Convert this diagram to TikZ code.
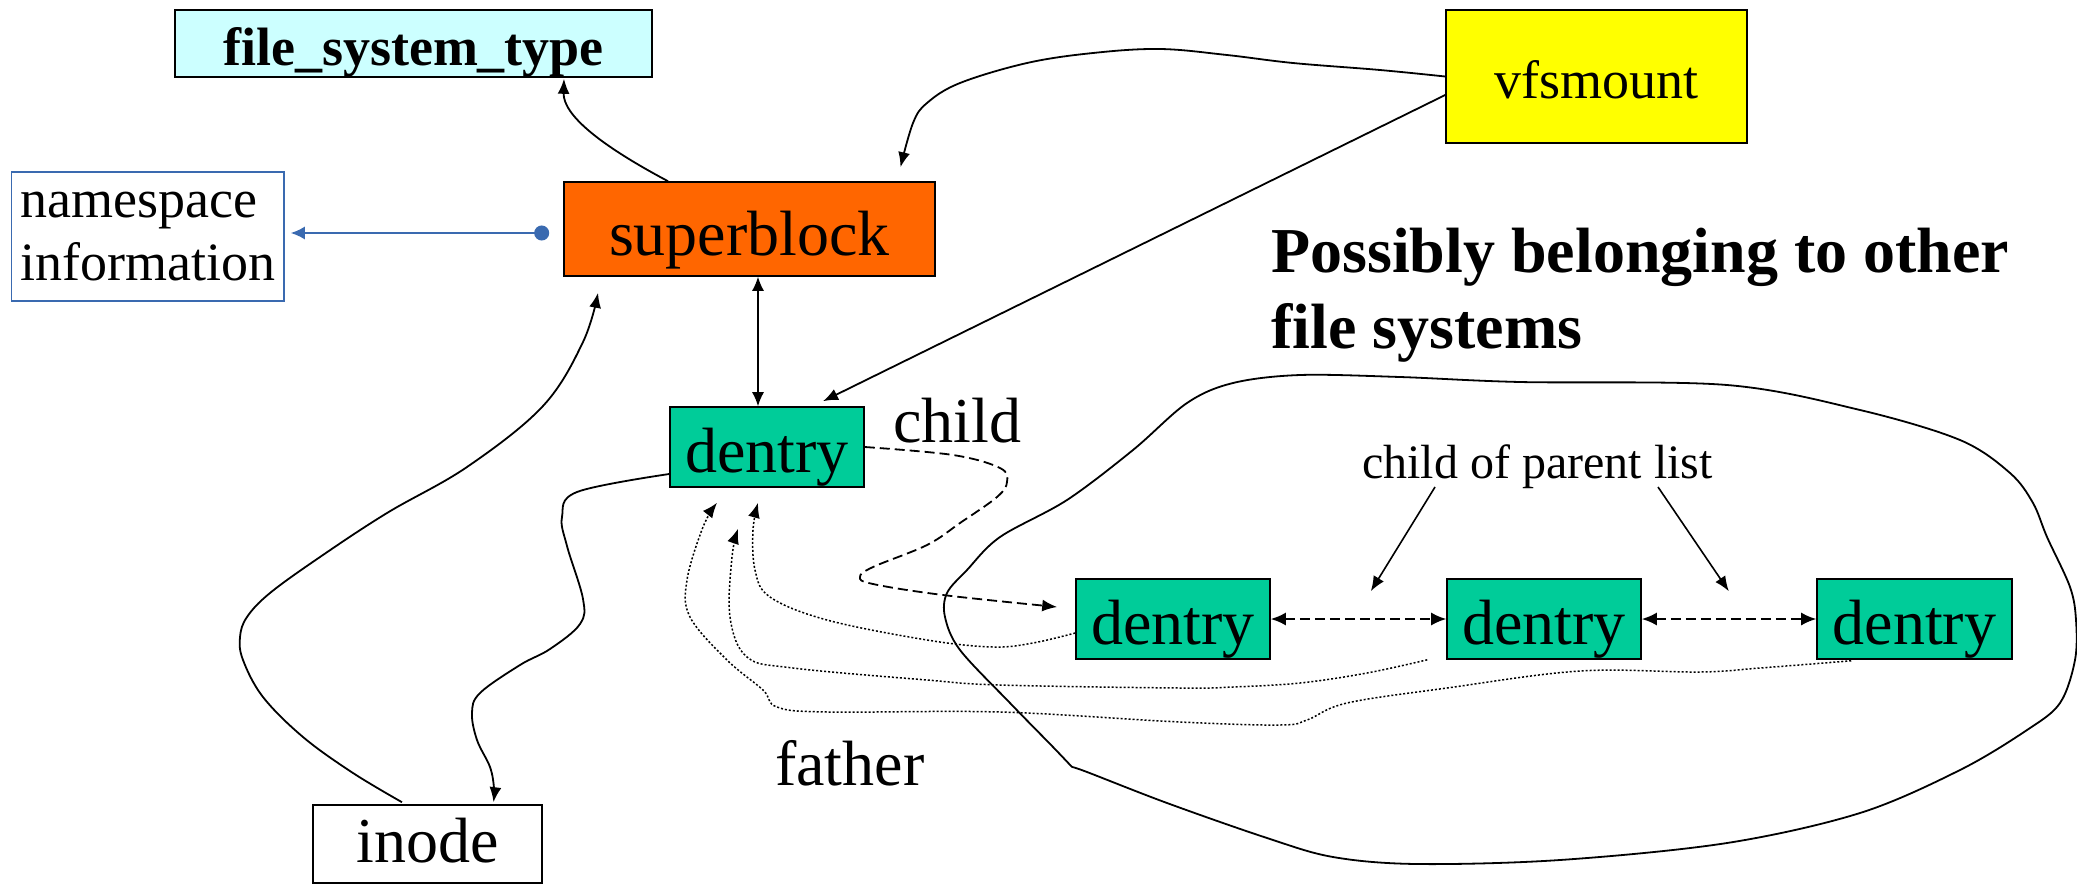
\documentclass[tikz,border=0pt]{standalone}
\usepackage{fontspec}
\setmainfont{Liberation Serif}
\usetikzlibrary{arrows.meta,calc}
\definecolor{fstcyan}{HTML}{CCFFFF}
\definecolor{sborange}{HTML}{FF6600}
\definecolor{vfsyellow}{HTML}{FFFF00}
\definecolor{dteal}{HTML}{00CC99}
\definecolor{nsblue}{HTML}{3A6AB0}
\begin{document}
\begin{tikzpicture}[x=1pt,y=-1pt,
  box/.style={draw=black, line width=1.6pt, inner sep=0pt, text depth=0pt},
  big/.style={font=\fontsize{64}{77}\selectfont},
  mid/.style={font=\fontsize{54}{63}\selectfont},
  dent/.style={box, fill=dteal, minimum width=194pt, minimum height=80pt, text height=51pt, big},
  lbl/.style={inner sep=0pt, anchor=base west},
  tip/.style={-{Latex[length=15pt,width=12pt]}},
  conn/.style={line width=1.8pt, tip},
  dashconn/.style={line width=1.8pt, dash pattern=on 10pt off 5pt},
  dotconn/.style={line width=1.5pt, dash pattern=on 2pt off 2pt, tip},
]
\useasboundingbox (0,0) rectangle (2077,884);

% boxes
\node[box, fill=fstcyan, minimum width=477pt, minimum height=67pt, text height=43pt,
      font=\fontsize{54}{65}\selectfont\bfseries] (fst) at (413.5,43.5) {file\_system\_type};
\node[box, fill=sborange, minimum width=371pt, minimum height=94pt, text height=52pt, big] (sb) at (749.5,229) {superblock};
\node[draw=nsblue, line width=1.5pt, minimum width=272.5pt, minimum height=129pt, inner sep=0pt,
      align=left, mid] (ns) at (147.75,236.5) {namespace\\information};
\node[box, fill=vfsyellow, minimum width=301pt, minimum height=133pt, text height=43pt, mid] (vfs) at (1596.5,76.5) {vfsmount};
\node[dent] (d0) at (767,447) {dentry};
\node[dent] (d1) at (1173,619) {dentry};
\node[dent] (d2) at (1544,619) {dentry};
\node[dent, minimum width=195pt] (d3) at (1914.5,619) {dentry};
\node[box, fill=white, minimum width=229pt, minimum height=78pt, text height=36pt, big] (inode) at (427.5,844) {inode};

% labels
\node[lbl, big] (child) at (893,442) {child};
\node[lbl, big] (father) at (775,785) {father};
\node[lbl, font=\fontsize{48}{58}\selectfont] (cpl) at (1362,478) {child of parent list};
\node[lbl, align=left, font=\fontsize{64}{76}\selectfont\bfseries] (poss) at (1271,348) {Possibly belonging to other\\file systems};

% blob
\draw[line width=1.8pt] plot[smooth, tension=0.55] coordinates {
 (1072,767) (1053,747) (1010,703) (960,650) (945,617) (947,593) (967,570) (1000,537)
 (1067,500) (1133,450) (1187,403) (1233,383) (1300,375) (1400,377) (1520,382) (1727,385)
 (1860,410) (1960,440) (2010,473) (2033,503) (2047,537) (2070,587) (2076,620) (2075,660)
 (2060,703) (2027,730) (1960,770) (1860,813) (1727,843) (1560,860) (1417,864) (1333,857)
 (1267,838) (1167,803) (1087,772) (1072,767)};

% superblock -> file_system_type
\draw[conn] ($(sb.north)+(-81.5,0)$) .. controls (600,145) and (563,115) .. ($(fst.south)+(150.5,1)$);
% vfsmount -> superblock
\draw[conn] plot[smooth, tension=0.6] coordinates {(vfs.west) (1380,70) (1293,63) (1227,55) (1160,49) (1093,53) (1027,63) (960,83) (927,103) (913,123) ($(sb.north)+(151,-14)$)};
% vfsmount -> dentry
\draw[conn] ($(vfs.west)+(0,18.5)$) -- ($(d0.north)+(56,-5)$);
% superblock <-> dentry
\draw[line width=1.4pt, {Latex[length=14pt,width=12pt]}-{Latex[length=14pt,width=12pt]}] ($(sb.south)+(8.5,0)$) -- ($(d0.north)+(-9,0)$);
% namespace
\draw[nsblue, line width=1.8pt, {Circle[length=15pt]}-{Latex[length=14pt,width=13pt]}] ($(sb.west)+(-14,4)$) -- ($(ns.east)+(6,-3.5)$);
% inode -> superblock
\draw[conn] plot[smooth, tension=0.6] coordinates {($(inode.north)+(-25.5,-2)$) (353,773) (303,737) (263,697) (243,660) (240,637) (247,617) (270,593) (320,557) (387,513) (467,467) (543,406) (583,342) ($(sb.south)+(-151.5,16)$)};
% dentry -> inode
\draw[conn] plot[smooth, tension=0.6] coordinates {($(d0.west)+(0,27)$) (577,492) (562,517) (567,546) (583,599) (580,624) (550,649) (520,665) (480,693) (472,713) (477,740) (490,767) (494,788) ($(inode.north)+(66,-2)$)};
% child dashed
\draw[dashconn, tip] plot[smooth, tension=0.6] coordinates {(d0.east) (953,455) (1000,468) (1007,482) (997,497) (960,523) (927,545) (873,567) (860,577) (873,584) (943,595) ($(d1.west)+(-18,-12)$)};
% sibling list
\draw[dashconn, {Latex[length=15pt,width=13pt]}-{Latex[length=15pt,width=13pt]}] (d1.east) -- (d2.west);
\draw[dashconn, {Latex[length=15pt,width=13pt]}-{Latex[length=15pt,width=13pt]}] (d2.east) -- (d3.west);
% child of parent list arrows
\draw[line width=1.6pt, tip] ($(cpl.base west)+(73,9)$) -- ($(d1.north east)+(100,13)$);
\draw[line width=1.6pt, tip] ($(cpl.base west)+(296,9)$) -- ($(d2.north east)+(87,13)$);
% father dotted
\draw[dotconn] plot[smooth, tension=0.6] coordinates {($(d1.west)+(0,14)$) (1033,643) (993,647) (927,640) (827,620) (770,597) (755,570) (753,530) ($(d0.south)+(-9,15)$)};
\draw[dotconn] plot[smooth, tension=0.6] coordinates {($(d2.south west)+(-19,0)$) (1367,673) (1300,683) (1233,687) (1180,688) (1000,685) (927,680) (793,668) (747,657) (730,617) (732,557) ($(d0.south)+(-29,41)$)};
\draw[dotconn] plot[smooth, tension=0.6] coordinates {($(d3.south west)+(35,1)$) (1760,668) (1700,672) (1580,671) (1447,688) (1347,703) (1307,720) (1280,725) (1180,722) (1000,712) (827,712) (777,707) (763,690) (727,660) (690,617) (687,580) (703,527) ($(d0.south)+(-50,15)$)};
\end{tikzpicture}
\end{document}
